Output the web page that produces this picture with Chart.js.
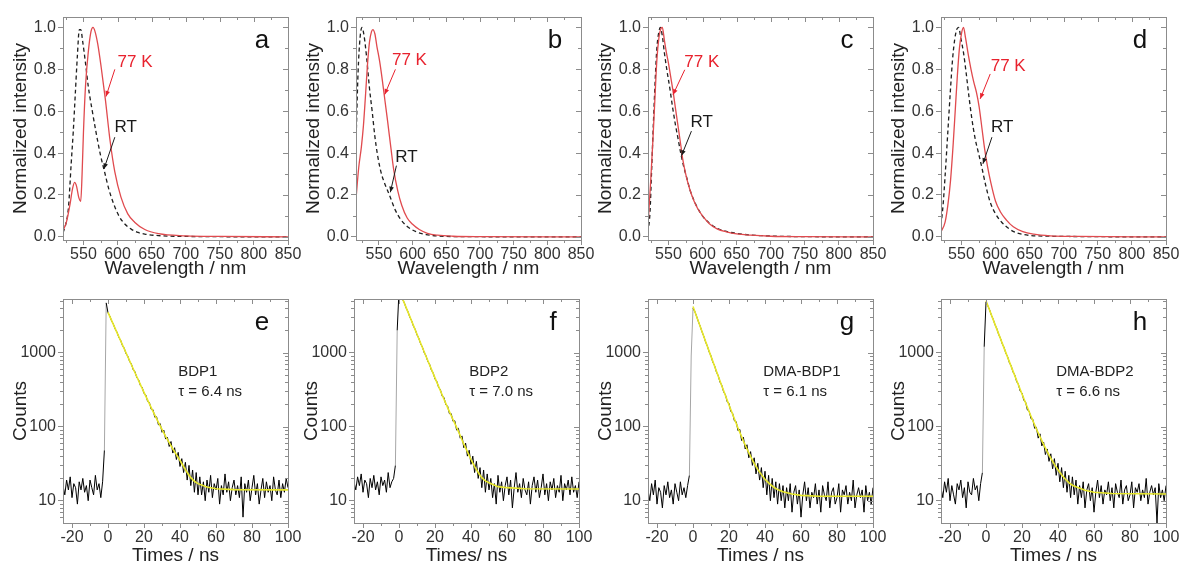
<!DOCTYPE html>
<html>
<head>
<meta charset="utf-8">
<script src="https://cdn.jsdelivr.net/npm/chart.js@4.4.0/dist/chart.umd.min.js"></script>
<style>
  body { margin: 0; background: #fff; width: 1181px; height: 567px; overflow: hidden; position: relative; }
  .panel { position: absolute; }
</style>
</head>
<body>
<div class="panel" style="left:0px;top:0px;width:308px;height:283px"><canvas id="chartA"></canvas></div>
<div class="panel" style="left:293px;top:0px;width:308px;height:283px"><canvas id="chartB"></canvas></div>
<div class="panel" style="left:585px;top:0px;width:308px;height:283px"><canvas id="chartC"></canvas></div>
<div class="panel" style="left:878px;top:0px;width:303px;height:283px"><canvas id="chartD"></canvas></div>
<div class="panel" style="left:0px;top:283px;width:308px;height:284px"><canvas id="chartE"></canvas></div>
<div class="panel" style="left:291px;top:283px;width:308px;height:284px"><canvas id="chartF"></canvas></div>
<div class="panel" style="left:585px;top:283px;width:308px;height:284px"><canvas id="chartG"></canvas></div>
<div class="panel" style="left:878px;top:283px;width:303px;height:284px"><canvas id="chartH"></canvas></div>
<script>
const FONT = '"Liberation Sans", Arial, Helvetica, sans-serif';
const AXIS = '#8c8c8c';
const TEXT = '#333';
const RED_LINE = '#e04a4e';
const RED_TEXT = '#e8222e';
const FIT_YELLOW = '#e8e82a';

// ---- top row: normalized emission spectra (77 K solid red, RT dashed black) ----
const specTicksX = [550, 600, 650, 700, 750, 800, 850];
const specMinorX = [525, 575, 625, 675, 725, 775, 825];
const specTicksY = [0, 0.2, 0.4, 0.6, 0.8, 1.0];
const specMinorY = [0.1, 0.3, 0.5, 0.7, 0.9];

const aWl77 = [520, 525, 530, 534, 537, 540, 543, 546, 548, 550, 553, 557, 561, 564, 567, 571, 576, 582, 589, 596, 605, 615, 625, 640, 660, 700, 750, 850];
const aInt77 = [0.03, 0.07, 0.15, 0.23, 0.26, 0.24, 0.19, 0.17, 0.3, 0.5, 0.72, 0.88, 0.98, 1.0, 0.98, 0.92, 0.81, 0.66, 0.46, 0.31, 0.19, 0.11, 0.07, 0.035, 0.015, 0.005, 0.002, 0];
const aWlRT = [520, 524, 528, 532, 535, 538, 541, 544, 546, 549, 553, 557, 563, 569, 575, 581, 587, 594, 602, 611, 620, 630, 640, 660, 700, 850];
const aIntRT = [0.02, 0.06, 0.14, 0.35, 0.5, 0.68, 0.86, 0.99, 0.99, 0.93, 0.83, 0.72, 0.6, 0.49, 0.39, 0.31, 0.23, 0.16, 0.1, 0.06, 0.037, 0.021, 0.013, 0.006, 0.002, 0];

const bWl77 = [516, 520, 524, 527, 530, 533, 536, 539, 541, 544, 547, 551, 555, 559, 563, 568, 572, 578, 584, 592, 600, 610, 622, 637, 660, 700, 850];
const bInt77 = [0.18, 0.33, 0.43, 0.53, 0.67, 0.82, 0.93, 0.98, 0.99, 0.97, 0.91, 0.84, 0.75, 0.65, 0.55, 0.42, 0.32, 0.22, 0.15, 0.09, 0.06, 0.035, 0.017, 0.008, 0.003, 0.001, 0];
const bWlRT = [516, 519, 522, 525, 528, 532, 536, 540, 544, 548, 553, 558, 563, 568, 574, 582, 592, 605, 620, 640, 680, 850];
const bIntRT = [0.45, 0.78, 0.95, 1.0, 0.96, 0.85, 0.71, 0.6, 0.48, 0.39, 0.31, 0.26, 0.22, 0.18, 0.13, 0.085, 0.05, 0.025, 0.011, 0.004, 0.001, 0];

const cWl77 = [520, 524, 527, 530, 533, 536, 539, 541, 544, 547, 550, 553, 557, 560, 564, 568, 571, 576, 581, 587, 593, 600, 610, 622, 635, 650, 670, 700, 750, 850];
const cInt77 = [0.055, 0.27, 0.45, 0.65, 0.845, 0.95, 0.995, 1.0, 0.94, 0.88, 0.83, 0.77, 0.69, 0.62, 0.53, 0.44, 0.37, 0.29, 0.23, 0.175, 0.134, 0.1, 0.063, 0.037, 0.024, 0.014, 0.008, 0.003, 0.001, 0];
const cWlRT = [520, 523, 525, 528, 531, 533, 536, 538, 541, 544, 548, 552, 556, 560, 564, 568, 572, 577, 582, 588, 594, 601, 610, 622, 635, 650, 670, 700, 750, 850];
const cIntRT = [0.02, 0.12, 0.29, 0.55, 0.78, 0.9, 0.98, 1.0, 0.96, 0.88, 0.79, 0.71, 0.62, 0.54, 0.47, 0.4, 0.34, 0.28, 0.22, 0.17, 0.13, 0.095, 0.066, 0.04, 0.026, 0.016, 0.009, 0.004, 0.001, 0];

const dWl77 = [520, 526, 530, 534, 538, 541, 544, 547, 550, 553, 556, 560, 564, 568, 572, 576, 580, 584, 588, 593, 600, 607, 616, 626, 640, 656, 680, 720, 850];
const dInt77 = [0.024, 0.07, 0.15, 0.27, 0.45, 0.61, 0.77, 0.9, 0.97, 1.0, 0.95, 0.87, 0.8, 0.74, 0.69, 0.62, 0.52, 0.42, 0.34, 0.26, 0.17, 0.12, 0.08, 0.048, 0.025, 0.013, 0.005, 0.002, 0];
const dWlRT = [520, 523, 526, 530, 534, 537, 540, 543, 546, 549, 553, 557, 561, 565, 570, 575, 580, 586, 592, 600, 609, 620, 631, 645, 680, 850];
const dIntRT = [0.056, 0.15, 0.29, 0.5, 0.71, 0.85, 0.94, 0.99, 1.0, 0.95, 0.88, 0.78, 0.67, 0.57, 0.47, 0.4, 0.33, 0.24, 0.167, 0.11, 0.07, 0.038, 0.019, 0.009, 0.003, 0];

// ---- bottom row: fluorescence decays (counts, log scale) and fits ----
const decayTicksX = [-20, 0, 20, 40, 60, 80, 100];
const decayMinorX = [-10, 10, 30, 50, 70, 90];
const decayTicksY = [10, 100, 1000];
const decayMinorY = [6, 7, 8, 9, 20, 30, 40, 50, 60, 70, 80, 90, 200, 300, 400, 500, 600, 700, 800, 900, 2000, 3000, 4000, 5000];

const decayTimes = [-25, -24, -23, -22, -21, -20, -19, -18, -17, -16, -15, -14, -13, -12, -11, -10, -9, -8, -7, -6, -5, -4, -3, -2, -1,
  0, 1, 2, 3, 4, 5, 6, 7, 8, 9, 10, 11, 12, 13, 14, 15, 16, 17, 18, 19, 20, 21, 22, 23, 24, 25,
  26, 27, 28, 29, 30, 31, 32, 33, 34, 35, 36, 37, 38, 39, 40, 41, 42, 43, 44, 45, 46, 47, 48, 49, 50,
  51, 52, 53, 54, 55, 56, 57, 58, 59, 60, 61, 62, 63, 64, 65, 66, 67, 68, 69, 70, 71, 72, 73, 74, 75,
  76, 77, 78, 79, 80, 81, 82, 83, 84, 85, 86, 87, 88, 89, 90, 91, 92, 93, 94, 95, 96, 97, 98, 99, 100];

const eCounts = [16, 12, 19, 14, 21, 11, 17, 15, 9, 18, 14, 20, 13, 16, 10, 19, 15, 12, 22, 14, 17, 11, 18, 48, 4700,
  3450, 3120, 2680, 2420, 2080, 1890, 1610, 1470, 1250, 1150, 970, 895, 760, 700, 590, 550, 460, 430, 360, 340, 280, 268, 220, 212, 172, 170,
  134, 136, 106, 110, 84, 90, 68, 72, 54, 63, 44, 52, 36, 45, 29, 37, 24, 33, 19, 30, 16, 26, 13, 24, 12,
  21, 12, 18, 10, 19, 13, 22, 11, 17, 14, 20, 9, 16, 12, 23, 13, 18, 10, 15, 19, 12, 16, 11, 21, 6,
  17, 13, 19, 10, 15, 22, 12, 17, 9, 14, 20, 11, 18, 13, 16, 10, 21, 14, 12, 19, 11, 17, 13, 20, 15];
const fCounts = [18, 14, 21, 16, 23, 13, 19, 17, 11, 20, 15, 22, 14, 18, 12, 21, 16, 19, 13, 24, 15, 18, 20, 30, 2000,
  6800, 6150, 5250, 4680, 3990, 3560, 3020, 2700, 2290, 2060, 1740, 1560, 1320, 1190, 1000, 905, 760, 695, 580, 530, 440, 408, 340, 315, 258, 248,
  198, 190, 150, 150, 118, 120, 90, 95, 70, 75, 52, 60, 40, 48, 31, 40, 24, 34, 20, 28, 15, 26, 13, 23, 14,
  20, 11, 17, 9, 22, 13, 18, 10, 16, 21, 12, 19, 8, 15, 24, 13, 17, 11, 20, 14, 12, 18, 9, 16, 21,
  13, 19, 11, 15, 23, 12, 17, 10, 18, 14, 20, 11, 16, 13, 22, 10, 17, 14, 19, 12, 21, 13, 16, 11, 18];
const gCounts = [14, 10, 17, 12, 19, 9, 15, 13, 8, 16, 12, 18, 11, 14, 9, 17, 13, 10, 18, 12, 15, 11, 16, 22, 900,
  3950, 3600, 3090, 2620, 2270, 1910, 1660, 1390, 1220, 1020, 900, 745, 665, 548, 490, 400, 362, 296, 270, 218, 205, 160, 152, 120, 117, 88,
  92, 65, 72, 50, 57, 38, 46, 30, 38, 23, 32, 19, 28, 15, 25, 12, 22, 10, 20, 11, 18, 9, 17, 10, 16,
  8, 15, 10, 17, 7, 13, 16, 9, 14, 6, 12, 18, 10, 15, 8, 13, 11, 17, 9, 14, 7, 16, 12, 10, 18,
  8, 13, 15, 9, 11, 17, 7, 14, 12, 16, 9, 13, 10, 19, 8, 12, 15, 11, 14, 7, 16, 10, 13, 9, 15];
const hCounts = [15, 11, 18, 13, 20, 10, 16, 12, 9, 17, 14, 19, 11, 15, 8, 18, 13, 12, 20, 14, 16, 10, 17, 24, 1200,
  4800, 4300, 3780, 3200, 2820, 2380, 2110, 1770, 1570, 1320, 1180, 985, 880, 732, 660, 548, 498, 408, 372, 302, 284, 228, 214, 168, 162, 128,
  126, 95, 98, 70, 80, 55, 62, 42, 50, 34, 43, 27, 37, 22, 32, 18, 28, 15, 25, 13, 22, 11, 21, 12, 19,
  9, 16, 11, 18, 8, 14, 17, 10, 15, 7, 13, 19, 11, 16, 9, 14, 12, 18, 10, 15, 8, 17, 13, 11, 19,
  9, 14, 16, 10, 12, 18, 8, 15, 13, 17, 10, 14, 11, 20, 9, 13, 16, 12, 15, 5, 17, 11, 14, 10, 16];

const fitTimes = [0, 5, 10, 15, 20, 25, 28, 30, 32, 34, 36, 38, 40, 42, 44, 46, 48, 50, 55, 60, 70, 100];
const eFit = [3500, 1864, 996, 535, 291, 161, 114, 92, 74, 61, 50, 42, 35, 29, 24, 20.5, 18.3, 17, 15.3, 14.5, 14.1, 14];
const fFit = [7000, 3524, 1774, 894, 456, 235, 160, 125, 98, 76, 58, 46, 36, 29, 24, 20.5, 18.5, 17.5, 15.5, 15, 14.5, 14.4];
const gFit = [4210, 1930, 890, 414, 196, 96, 64, 50, 39.6, 32, 26.5, 22.5, 19.5, 17.4, 15.8, 14.6, 13.8, 13.2, 12.3, 11.8, 11.5, 11.5];
const hFit = [5010, 2410, 1160, 562, 276, 138, 93, 73, 57.5, 46, 37.5, 31, 26.2, 22.4, 19.6, 17.6, 16.2, 15.4, 13.8, 13, 12.5, 12.3];

Chart.defaults.font.family = FONT;
Chart.defaults.color = TEXT;

function points(xs, ys) {
  return xs.map((v, i) => ({ x: v, y: ys[i] }));
}

// box around the plot, mirrored ticks on top/right and minor ticks everywhere
function framePlugin(xMinor, yMinor) {
  return {
    id: 'frame',
    afterDraw(chart) {
      const { ctx, chartArea: a } = chart;
      const sx = chart.scales.x, sy = chart.scales.y;
      const px = v => Math.round(sx.getPixelForValue(v)) + 0.5;
      const py = v => Math.round(sy.getPixelForValue(v)) + 0.5;
      ctx.save();
      ctx.strokeStyle = AXIS;
      ctx.lineWidth = 1;
      ctx.strokeRect(Math.round(a.left) + 0.5, Math.round(a.top) + 0.5,
        Math.round(a.right - a.left), Math.round(a.bottom - a.top));
      ctx.beginPath();
      sx.ticks.forEach(t => { const p = px(t.value); ctx.moveTo(p, a.top); ctx.lineTo(p, a.top + 5); });
      sy.ticks.forEach(t => { const p = py(t.value); ctx.moveTo(a.right, p); ctx.lineTo(a.right - 5, p); });
      xMinor.filter(v => v >= sx.min && v <= sx.max).forEach(v => {
        const p = px(v);
        ctx.moveTo(p, a.bottom); ctx.lineTo(p, a.bottom + 3);
        ctx.moveTo(p, a.top); ctx.lineTo(p, a.top + 3);
      });
      yMinor.filter(v => v >= sy.min && v <= sy.max).forEach(v => {
        const p = py(v);
        ctx.moveTo(a.left, p); ctx.lineTo(a.left - 3, p);
        ctx.moveTo(a.right, p); ctx.lineTo(a.right - 3, p);
      });
      ctx.stroke();
      ctx.restore();
    }
  };
}

// panel letter, labels and arrows placed in data coordinates
function notesPlugin(letter, texts, arrows) {
  return {
    id: 'notes',
    afterDraw(chart) {
      const { ctx, chartArea: a } = chart;
      const sx = chart.scales.x, sy = chart.scales.y;
      ctx.save();
      ctx.textBaseline = 'middle';
      ctx.textAlign = 'center';
      ctx.fillStyle = '#111';
      ctx.font = '26px ' + FONT;
      ctx.fillText(letter, a.right - 26, a.top + 24);
      texts.forEach(t => {
        ctx.font = t.size + 'px ' + FONT;
        ctx.fillStyle = t.color;
        ctx.textAlign = t.align || 'center';
        ctx.fillText(t.text, sx.getPixelForValue(t.x), sy.getPixelForValue(t.y));
      });
      arrows.forEach(r => {
        const x0 = sx.getPixelForValue(r.x0), y0 = sy.getPixelForValue(r.y0);
        const x1 = sx.getPixelForValue(r.x1), y1 = sy.getPixelForValue(r.y1);
        const ang = Math.atan2(y1 - y0, x1 - x0);
        ctx.strokeStyle = r.color;
        ctx.fillStyle = r.color;
        ctx.lineWidth = 1;
        ctx.beginPath();
        ctx.moveTo(x0, y0);
        ctx.lineTo(x1, y1);
        ctx.stroke();
        ctx.beginPath();
        ctx.moveTo(x1, y1);
        ctx.lineTo(x1 - 6 * Math.cos(ang - 0.4), y1 - 6 * Math.sin(ang - 0.4));
        ctx.lineTo(x1 - 6 * Math.cos(ang + 0.4), y1 - 6 * Math.sin(ang + 0.4));
        ctx.closePath();
        ctx.fill();
      });
      ctx.restore();
    }
  };
}

function xAxis(min, max, ticks, title, height, titlePad) {
  return {
    type: 'linear', min: min, max: max,
    afterBuildTicks: s => { s.ticks = ticks.map(v => ({ value: v })); },
    afterFit: s => { s.height = height; },
    grid: { drawOnChartArea: false, drawTicks: true, tickLength: 5, color: AXIS },
    border: { color: AXIS, width: 1 },
    ticks: { color: TEXT, font: { size: 16 }, padding: 0, autoSkip: false, maxRotation: 0, callback: v => String(v) },
    title: { display: true, text: title, color: '#222', font: { size: 19 }, padding: { top: 0, bottom: titlePad } }
  };
}

function yAxis(type, min, max, ticks, title, fmt) {
  return {
    type: type, min: min, max: max,
    afterBuildTicks: s => { s.ticks = ticks.map(v => ({ value: v })); },
    afterFit: s => { s.width = 63; },
    grid: { drawOnChartArea: false, drawTicks: true, tickLength: 5, color: AXIS },
    border: { color: AXIS, width: 1 },
    ticks: { color: TEXT, font: { size: 16 }, padding: 2, autoSkip: false, callback: fmt },
    title: { display: true, text: title, color: '#222', font: { size: 19 }, padding: { top: 9, bottom: 0 } }
  };
}

function spectrumChart(id, width, letter, wl77, int77, wlRT, intRT, xMin, notes) {
  new Chart(document.getElementById(id), {
    type: 'line',
    data: {
      datasets: [
        { label: '77 K', data: points(wl77, int77), borderColor: RED_LINE, borderWidth: 1.3,
          pointRadius: 0, cubicInterpolationMode: 'monotone', order: 0 },
        { label: 'RT', data: points(wlRT, intRT), borderColor: '#1e1e1e', borderWidth: 1.3, borderDash: [4, 3],
          pointRadius: 0, cubicInterpolationMode: 'monotone', order: 1 }
      ]
    },
    options: {
      responsive: true, maintainAspectRatio: false, animation: false,
      layout: { padding: { top: 17, right: width - 63 - 225, left: 0, bottom: 0 } },
      plugins: { legend: { display: false }, tooltip: { enabled: false } },
      scales: {
        x: xAxis(xMin, 850, specTicksX, 'Wavelength / nm', 43, 3),
        y: yAxis('linear', -0.015, 1.05, specTicksY, 'Normalized intensity', v => Number(v).toFixed(1))
      }
    },
    plugins: [
      framePlugin(specMinorX, specMinorY),
      notesPlugin(letter, [
        { text: '77 K', x: notes.k[0], y: notes.k[1], color: RED_TEXT, size: 17 },
        { text: 'RT', x: notes.rt[0], y: notes.rt[1], color: '#1a1a1a', size: 17 }
      ], [
        { x0: notes.ka[0], y0: notes.ka[1], x1: notes.ka[2], y1: notes.ka[3], color: RED_TEXT },
        { x0: notes.rta[0], y0: notes.rta[1], x1: notes.rta[2], y1: notes.rta[3], color: '#1a1a1a' }
      ])
    ]
  });
}

function decayChart(id, width, letter, counts, fit, name, tau) {
  new Chart(document.getElementById(id), {
    type: 'line',
    data: {
      datasets: [
        { label: 'data', data: points(decayTimes, counts), borderColor: '#000', borderWidth: 1,
          pointRadius: 0, tension: 0, order: 1,
          segment: { borderColor: c => (c.p1.parsed.y > c.p0.parsed.y * 4 ? '#a6a6a6' : undefined) } },
        { label: 'fit', data: points(fitTimes, fit), borderColor: FIT_YELLOW, borderWidth: 1.6,
          pointRadius: 0, tension: 0, order: 0 }
      ]
    },
    options: {
      responsive: true, maintainAspectRatio: false, animation: false,
      layout: { padding: { top: 16, right: width - 63 - 225, left: 0, bottom: 0 } },
      plugins: { legend: { display: false }, tooltip: { enabled: false } },
      scales: {
        x: xAxis(-25, 100, decayTicksX, name === 'BDP2' ? 'Times/ ns' : 'Times / ns', 44, 0),
        y: yAxis('logarithmic', 5, 5300, decayTicksY, 'Counts', v => String(v))
      }
    },
    plugins: [
      framePlugin(decayMinorX, decayMinorY),
      notesPlugin(letter, [
        { text: name, x: 39, y: 545, color: '#222', size: 15, align: 'left' },
        { text: '\u03c4 = ' + tau + ' ns', x: 39, y: 293, color: '#222', size: 15, align: 'left' }
      ], [])
    ]
  });
}

spectrumChart('chartA', 308, 'a', aWl77, aInt77, aWlRT, aIntRT, 520,
  { k: [625.6, 0.833], rt: [612, 0.524], ka: [596, 0.80, 583, 0.67], rta: [596, 0.476, 580, 0.324] });
spectrumChart('chartB', 308, 'b', bWl77, bInt77, bWlRT, bIntRT, 516,
  { k: [595.3, 0.845], rt: [590.9, 0.38], ka: [574.5, 0.80, 558.6, 0.68], rta: [576, 0.34, 567, 0.213] });
spectrumChart('chartC', 308, 'c', cWl77, cInt77, cWlRT, cIntRT, 520,
  { k: [598.9, 0.835], rt: [598.9, 0.546], ka: [573.9, 0.798, 556.7, 0.679], rta: [583.7, 0.505, 569, 0.387] });
spectrumChart('chartD', 303, 'd', dWl77, dInt77, dWlRT, dIntRT, 520,
  { k: [618.5, 0.816], rt: [609.8, 0.525], ka: [592.2, 0.778, 577.5, 0.659], rta: [594.7, 0.476, 581.5, 0.349] });

decayChart('chartE', 308, 'e', eCounts, eFit, 'BDP1', '6.4');
decayChart('chartF', 308, 'f', fCounts, fFit, 'BDP2', '7.0');
decayChart('chartG', 308, 'g', gCounts, gFit, 'DMA-BDP1', '6.1');
decayChart('chartH', 303, 'h', hCounts, hFit, 'DMA-BDP2', '6.6');
</script>
</body>
</html>
